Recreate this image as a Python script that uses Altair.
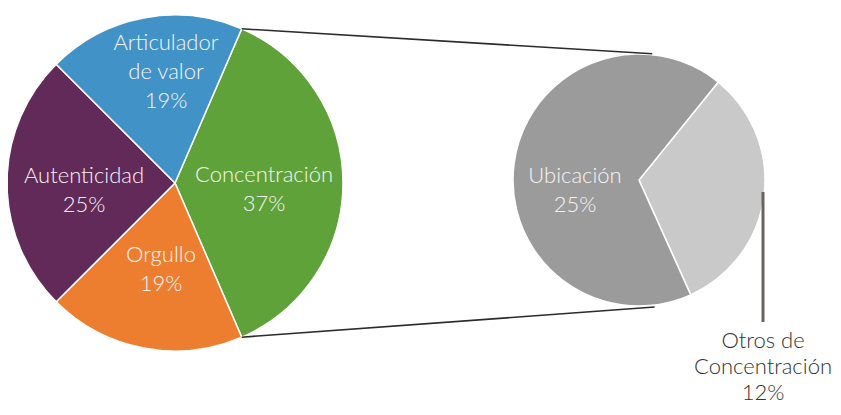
import math
import altair as alt
import pandas as pd

# ---- data ----
categories = ["Concentración", "Orgullo", "Autenticidad", "Articulador de valor"]
shares = [37, 19, 25, 19]
colors = ["#5fa23a", "#ee7e2f", "#622a59", "#4192c6"]

sub_categories = ["Otros de Concentración", "Ubicación"]
sub_shares = [12, 25]
sub_colors = ["#c9c9c9", "#9b9b9b"]

# display line breaks for labels
wrapped = {"Articulador de valor": "Articulador\nde valor",
           "Otros de Concentración": "Otros de\nConcentración"}

# ---- layout (pixels, chart coordinates) ----
W, H = 825, 399
L_CX, L_CY, L_R = 167, 175, 168
R_CX, R_CY, R_R = 631, 172, 126

# offsets of each label's first line relative to its pie centre
left_label_off = [(89, -8), (-14, 72), (-91, -7), (-9, -140)]
right_label_off = [(124, 161), (-64, -4)]
line_heights = [29, 29, 29, 29, 26, 29]

total = sum(shares)
sub_total = sum(sub_shares)
# left pie rotated so the exploded slice (first) is centred on 3 o'clock
a0 = math.radians(90 - shares[0] / total * 360 / 2)
b0 = math.radians(39)

left = pd.DataFrame({
    "category": categories,
    "value": shares,
    "idx": range(len(categories)),
})
right = pd.DataFrame({
    "category": sub_categories,
    "value": sub_shares,
    "idx": range(len(sub_categories)),
})

left_arc = alt.Chart(left).mark_arc(radius=L_R, stroke="#ffffff", strokeWidth=1.5).encode(
    theta=alt.Theta("value:Q", stack=True,
                    scale=alt.Scale(domain=[0, total], range=[a0, a0 + 2 * math.pi])),
    color=alt.Color("category:N", scale=alt.Scale(domain=categories, range=colors), legend=None),
    order=alt.Order("idx:Q"),
    x=alt.value(L_CX), y=alt.value(L_CY),
)

right_arc = alt.Chart(right).mark_arc(radius=R_R, stroke="#ffffff", strokeWidth=1.5).encode(
    theta=alt.Theta("value:Q", stack=True,
                    scale=alt.Scale(domain=[0, sub_total], range=[b0, b0 + 2 * math.pi])),
    color=alt.Color("category:N", scale=alt.Scale(domain=sub_categories, range=sub_colors), legend=None),
    order=alt.Order("idx:Q"),
    x=alt.value(R_CX), y=alt.value(R_CY),
)

# connector lines: from the boundary of the exploded slice to the top/bottom of the second pie
t_start = a0
t_end = a0 + shares[0] / total * 2 * math.pi
conn = pd.DataFrame({
    "x": [L_CX + L_R * math.sin(t_start), L_CX + L_R * math.sin(t_end)],
    "y": [L_CY - L_R * math.cos(t_start), L_CY - L_R * math.cos(t_end)],
    "x2": [R_CX + (R_R + 1) * math.sin(math.radians(6)), R_CX + (R_R + 2) * math.sin(math.radians(173))],
    "y2": [R_CY - (R_R + 1) * math.cos(math.radians(6)), R_CY - (R_R + 2) * math.cos(math.radians(173))],
})
connectors = alt.Chart(conn).mark_rule(color="#2b2b2b", strokeWidth=1.6).encode(
    x=alt.X("x:Q", scale=None, axis=None),
    y=alt.Y("y:Q", scale=None, axis=None),
    x2="x2:Q", y2="y2:Q",
)

# leader line for the outside label
lead = pd.DataFrame({"x": [R_CX + R_R - 2], "y": [R_CY + 12], "y2": [R_CY + 142]})
leader = alt.Chart(lead).mark_rule(color="#6b6262", strokeWidth=3).encode(
    x=alt.X("x:Q", scale=None, axis=None),
    y=alt.Y("y:Q", scale=None, axis=None),
    y2="y2:Q",
)

def lab(name, v):
    return wrapped.get(name, name) + "\n" + f"{v}%"

labels = pd.DataFrame({
    "label": [lab(c, v) for c, v in zip(categories, shares)] + [lab(c, v) for c, v in zip(sub_categories, sub_shares)],
    "x": [L_CX + dx for dx, _ in left_label_off] + [R_CX + dx for dx, _ in right_label_off],
    "y": [L_CY + dy for _, dy in left_label_off] + [R_CY + dy for _, dy in right_label_off],
    "tc": ["#f5f5f5"] * 4 + ["#333333", "#f5f5f5"],
    "lh": line_heights,
})

layers = [left_arc, right_arc, connectors, leader]
for lh_val in sorted(set(line_heights)):
    layers.append(
        alt.Chart(labels[labels["lh"] == lh_val]).mark_text(
            font="Lato", fontSize=22, fontWeight=300, lineHeight=lh_val,
            align="center", baseline="middle", lineBreak="\n"
        ).encode(
            x=alt.X("x:Q", scale=None, axis=None),
            y=alt.Y("y:Q", scale=None, axis=None),
            text="label:N",
            color=alt.Color("tc:N", scale=None),
        )
    )

chart = alt.layer(*layers).resolve_scale(
    color="independent", theta="independent"
).properties(
    width=W, height=H, padding=0, autosize=alt.AutoSizeParams(type="none")
).configure_view(stroke=None)

chart.save("out.html", embed_options={"renderer": "svg", "actions": False})
